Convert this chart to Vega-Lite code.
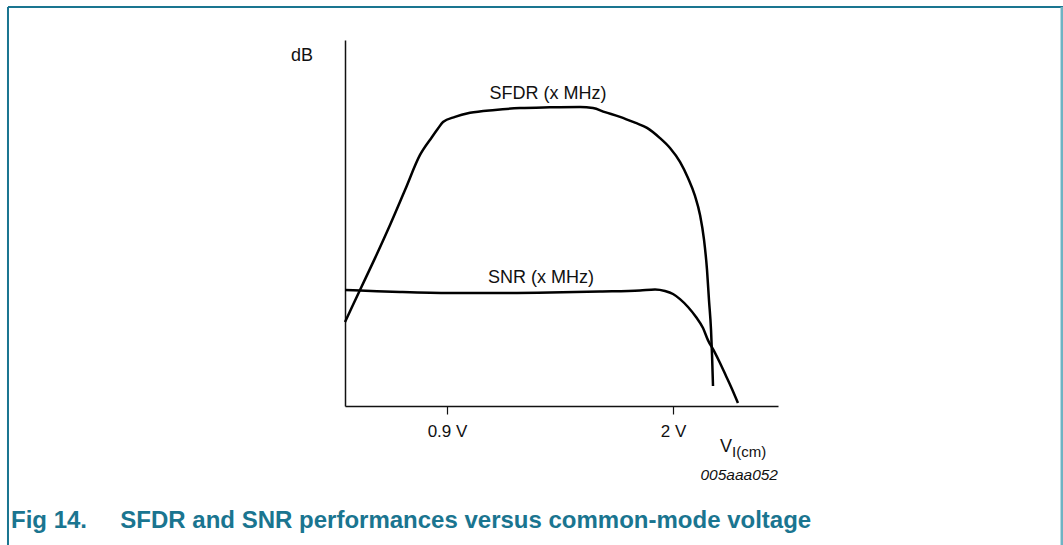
{
  "$schema": "https://vega.github.io/schema/vega-lite/v6.json",
  "autosize": "none",
  "width": 433,
  "height": 366,
  "padding": {"left": 345, "top": 40, "right": 285, "bottom": 139},
  "background": "white",
  "config": {
    "view": {"stroke": null},
    "font": "Liberation Sans",
    "text": {"font": "Liberation Sans", "color": "#111111"}
  },
  "title": {
    "text": "Fig 14.\u00a0\u00a0\u00a0\u00a0\u00a0SFDR and SNR performances versus common-mode voltage",
    "orient": "bottom",
    "anchor": "start",
    "frame": "group",
    "dx": -334,
    "offset": -38,
    "font": "Liberation Sans",
    "fontSize": 24,
    "fontWeight": "bold",
    "color": "#1a7590"
  },
  "datasets": {
    "sfdr": [
      {"v": 0.4035, "db": 22.95}, {"v": 0.4376, "db": 27.05}, {"v": 0.4765, "db": 31.7},
      {"v": 0.5496, "db": 40.4}, {"v": 0.6226, "db": 49.45}, {"v": 0.6956, "db": 59.0},
      {"v": 0.7686, "db": 68.6}, {"v": 0.827, "db": 73.5}, {"v": 0.8562, "db": 75.8},
      {"v": 0.8805, "db": 77.6},
      {"v": 0.939, "db": 79.0}, {"v": 1.012, "db": 80.1}, {"v": 1.1336, "db": 80.9},
      {"v": 1.2553, "db": 81.4}, {"v": 1.4013, "db": 81.6}, {"v": 1.5474, "db": 81.7},
      {"v": 1.6106, "db": 81.4}, {"v": 1.669, "db": 80.3}, {"v": 1.742, "db": 79.0},
      {"v": 1.815, "db": 77.4}, {"v": 1.8735, "db": 76.0}, {"v": 1.9367, "db": 73.2},
      {"v": 1.9854, "db": 70.5}, {"v": 2.034, "db": 66.7}, {"v": 2.073, "db": 62.3},
      {"v": 2.107, "db": 57.4}, {"v": 2.1315, "db": 52.2}, {"v": 2.151, "db": 45.4},
      {"v": 2.1655, "db": 37.2}, {"v": 2.175, "db": 29.0}, {"v": 2.185, "db": 20.8},
      {"v": 2.19, "db": 13.9}, {"v": 2.1947, "db": 5.46}
    ],
    "snr": [
      {"v": 0.4035, "db": 31.7}, {"v": 0.4765, "db": 31.56}, {"v": 0.6712, "db": 31.15},
      {"v": 0.9146, "db": 30.87}, {"v": 1.158, "db": 30.87}, {"v": 1.4013, "db": 31.0},
      {"v": 1.6447, "db": 31.28}, {"v": 1.8394, "db": 31.56}, {"v": 1.9124, "db": 31.83},
      {"v": 1.961, "db": 31.42}, {"v": 2.0, "db": 30.6}, {"v": 2.034, "db": 29.2},
      {"v": 2.073, "db": 27.05}, {"v": 2.112, "db": 24.3}, {"v": 2.146, "db": 21.3},
      {"v": 2.17, "db": 18.0}, {"v": 2.2, "db": 15.0}, {"v": 2.2288, "db": 11.75},
      {"v": 2.258, "db": 8.2}, {"v": 2.287, "db": 4.64}, {"v": 2.316, "db": 0.82}
    ],
    "curveLabels": [
      {"v": 1.3916, "db": 83.8, "label": "SFDR (x MHz)"},
      {"v": 1.3575, "db": 33.6, "label": "SNR (x MHz)"}
    ],
    "axisLabels": [
      {"v": 0.1407, "db": 94.26, "label": "dB"},
      {"v": 2.2288, "db": -12.48, "label": "V"}
    ],
    "subLabels": [
      {"v": 2.2872, "db": -13.93, "label": "I(cm)"}
    ],
    "codeLabels": [
      {"v": 2.511, "db": -20.22, "label": "005aaa052"}
    ],
    "frameH": [
      {"x1": -1.2368, "x2": 3.898, "y": 109.02}
    ],
    "frameLeft": [
      {"x": -1.2368, "y1": 109.02, "y2": -38.0}
    ],
    "frameRight": [
      {"x": 3.8934, "y1": 109.02, "y2": -38.0}
    ]
  },
  "layer": [
    {
      "data": {"name": "sfdr"},
      "mark": {"type": "line", "color": "black", "strokeWidth": 2.5, "interpolate": "monotone", "clip": false},
      "encoding": {
        "x": {
          "field": "v", "type": "quantitative",
          "scale": {"domain": [0.4035, 2.511], "nice": false, "zero": false},
          "axis": {
            "values": [0.9, 2],
            "labelExpr": "format(datum.value, '~g') + ' V'",
            "title": null, "grid": false,
            "domainColor": "#111111", "domainWidth": 1.5,
            "tickColor": "#111111", "tickWidth": 1.2, "tickSize": 8,
            "labelFont": "Liberation Sans", "labelFontSize": 17, "labelColor": "#111111",
            "labelPadding": 9
          }
        },
        "y": {
          "field": "db", "type": "quantitative",
          "scale": {"domain": [0, 100], "nice": false, "zero": false},
          "axis": {
            "title": null, "grid": false, "ticks": false, "labels": false,
            "domainColor": "#111111", "domainWidth": 1.5
          }
        }
      }
    },
    {
      "data": {"name": "snr"},
      "mark": {"type": "line", "color": "black", "strokeWidth": 2.5, "interpolate": "monotone", "clip": false},
      "encoding": {
        "x": {"field": "v", "type": "quantitative"},
        "y": {"field": "db", "type": "quantitative"}
      }
    },
    {
      "data": {"name": "curveLabels"},
      "mark": {"type": "text", "fontSize": 18, "align": "center", "baseline": "alphabetic", "clip": false},
      "encoding": {
        "x": {"field": "v", "type": "quantitative"},
        "y": {"field": "db", "type": "quantitative"},
        "text": {"field": "label"}
      }
    },
    {
      "data": {"name": "axisLabels"},
      "mark": {"type": "text", "fontSize": 18, "align": "left", "baseline": "alphabetic", "clip": false},
      "encoding": {
        "x": {"field": "v", "type": "quantitative"},
        "y": {"field": "db", "type": "quantitative"},
        "text": {"field": "label"}
      }
    },
    {
      "data": {"name": "subLabels"},
      "mark": {"type": "text", "fontSize": 15, "align": "left", "baseline": "alphabetic", "clip": false},
      "encoding": {
        "x": {"field": "v", "type": "quantitative"},
        "y": {"field": "db", "type": "quantitative"},
        "text": {"field": "label"}
      }
    },
    {
      "data": {"name": "codeLabels"},
      "mark": {"type": "text", "fontSize": 15.5, "fontStyle": "italic", "align": "right", "baseline": "alphabetic", "clip": false},
      "encoding": {
        "x": {"field": "v", "type": "quantitative"},
        "y": {"field": "db", "type": "quantitative"},
        "text": {"field": "label"}
      }
    },
    {
      "data": {"name": "frameH"},
      "mark": {"type": "rule", "color": "#1a7590", "strokeWidth": 2, "clip": false},
      "encoding": {
        "x": {"field": "x1", "type": "quantitative"},
        "x2": {"field": "x2"},
        "y": {"field": "y", "type": "quantitative"}
      }
    },
    {
      "data": {"name": "frameLeft"},
      "mark": {"type": "rule", "color": "#1a7590", "strokeWidth": 2, "clip": false},
      "encoding": {
        "x": {"field": "x", "type": "quantitative"},
        "y": {"field": "y1", "type": "quantitative"},
        "y2": {"field": "y2"}
      }
    },
    {
      "data": {"name": "frameRight"},
      "mark": {"type": "rule", "color": "#6fb3c3", "strokeWidth": 3, "clip": false},
      "encoding": {
        "x": {"field": "x", "type": "quantitative"},
        "y": {"field": "y1", "type": "quantitative"},
        "y2": {"field": "y2"}
      }
    }
  ]
}
